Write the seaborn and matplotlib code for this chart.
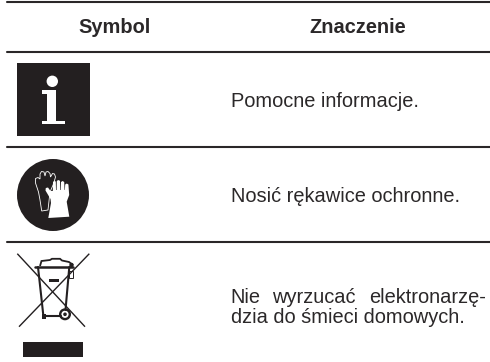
import matplotlib
matplotlib.use("Agg")
import matplotlib.pyplot as plt
from matplotlib.patches import Polygon, Rectangle, Circle
import pandas as pd
import seaborn as sns

# table content
headers = ["Symbol", "Znaczenie"]
meanings = ["Pomocne informacje.", "Nosić rękawice ochronne."]
last_line1 = ["Nie", "wyrzucać", "elektronarzę-"]
last_line2 = "dzia do śmieci domowych."
rule_rows = [1.7, 52.3, 147, 242.3]

INK = "#231f20"
TXT = "#2b2829"

sns.set_theme(style="white", rc={"figure.facecolor": "white", "axes.facecolor": "white"})
plt.rcParams["font.family"] = ["Liberation Sans", "DejaVu Sans"]
FS = 14.4

fig = plt.figure(figsize=(4.9, 3.62), dpi=100)
ax = fig.add_axes([0, 0, 1, 1])

rules = pd.DataFrame({
    "x": [7, 490] * len(rule_rows),
    "y": [v for r in rule_rows for v in (r, r)],
    "rule": [i for i in range(len(rule_rows)) for _ in (0, 1)],
})
sns.lineplot(data=rules, x="x", y="y", units="rule", estimator=None,
             color="#2a2728", lw=1.5, ax=ax, legend=False)
ax.set_xlim(0, 490)
ax.set_ylim(362, 0)
ax.axis("off")

# headers
ax.text(114.7, 33.3, headers[0], ha="center", va="baseline", fontsize=FS, fontweight="bold", color=TXT)
ax.text(358, 33.3, headers[1], ha="center", va="baseline", fontsize=FS, fontweight="bold", color=TXT)

# meanings
ax.text(231, 107, meanings[0], va="baseline", fontsize=FS, color=TXT)
ax.text(231, 201.7, meanings[1], va="baseline", fontsize=FS, color=TXT)
ax.text(230.5, 302.7, last_line1[0], va="baseline", fontsize=FS, color=TXT)
ax.text(271.7, 302.7, last_line1[1], va="baseline", fontsize=FS, color=TXT)
ax.text(486, 302.7, last_line1[2], ha="right", va="baseline", fontsize=FS, color=TXT)
ax.text(231, 322.7, last_line2, va="baseline", fontsize=FS, color=TXT)

# info icon
ax.add_patch(Rectangle((17, 63), 73, 72.7, fc=INK, ec="none"))
ax.add_patch(Circle((52.3, 81.3), 5.7, fc="white", ec="none"))
ax.add_patch(Polygon([(42, 90), (56, 90), (56, 120.5), (65, 120.5), (65, 124), (42, 124),
                      (42, 120.5), (47, 120.5), (47, 93.5), (42, 93.5)], fc="white", ec="none"))

# glove icon
ax.add_patch(Circle((53, 195), 36, fc=INK, ec="none"))
back_glove = [(41.7, 211), (48, 210), (50, 192), (53.5, 184), (55.5, 177), (54.5, 174), (52.5, 173.5),
              (50.5, 177), (50, 173.5), (48, 171.5), (46, 172), (45, 176), (44, 172), (41.5, 171.5),
              (40, 174), (40, 179), (38, 177.5), (35.5, 178.5), (35.5, 183), (38.5, 192), (40, 200)]
ax.add_patch(Polygon(back_glove, closed=True, fc=INK, ec="white", lw=0.6))
front_glove = [(48.3, 218), (69.3, 216.7), (66.7, 201.7), (69.2, 195), (68.4, 184.5), (66.8, 183.5), (65.2, 184.5),
               (64.9, 190), (64.5, 190), (64.2, 182), (62.6, 181), (61, 182), (60.8, 190), (60.2, 190),
               (60, 180.8), (58.2, 180), (56.8, 181), (56.6, 190), (56, 190), (55.8, 181.5), (54.3, 181),
               (53, 182), (52.8, 191), (50.5, 191), (48, 187.5), (45.8, 188), (45.5, 190.5), (50.5, 199), (51, 203)]
ax.add_patch(Polygon(front_glove, closed=True, fc="white", ec="none"))

# crossed-out bin icon
for (x0, y0, x1, y1) in [(17.3, 253.7, 85, 326.7), (89.3, 253.7, 19, 326.7)]:
    ax.plot([x0, x1], [y0, y1], color=INK, lw=1.0, solid_capstyle="butt")
ax.plot([38, 43.5], [267, 317], color=INK, lw=1.5)
ax.plot([69.3, 65.5], [267, 310], color=INK, lw=1.5)
ax.plot([42.5, 61], [316, 316], color=INK, lw=1.5)
ax.add_patch(Rectangle((41.5, 314), 4, 4.5, fc=INK, ec="none"))
ax.plot([34.5, 73], [267, 267], color=INK, lw=1.8)
ax.add_patch(Polygon([(40, 266), (41.5, 261), (50, 260), (52, 258.8), (60, 258.8), (62, 260.5),
                      (69, 262), (73, 265)], closed=False, fc="none", ec=INK, lw=1.3))
ax.add_patch(Circle((71.5, 265), 2.2, fc=INK, ec="none"))
ax.add_patch(Rectangle((49.3, 278.7), 10, 3.7, fc=INK, ec="none"))
ax.add_patch(Rectangle((68.7, 271), 4.6, 6.5, fc="none", ec=INK, lw=0.7))
ax.add_patch(Circle((65, 314.3), 6, fc=INK, ec="none"))
ax.add_patch(Circle((65, 314.3), 3.6, fc="white", ec="none"))
ax.add_patch(Circle((65, 314.3), 1.8, fc=INK, ec="none"))
ax.add_patch(Rectangle((23, 342), 59.7, 14.7, fc=INK, ec="none"))

fig.savefig("out.png", dpi=100)
